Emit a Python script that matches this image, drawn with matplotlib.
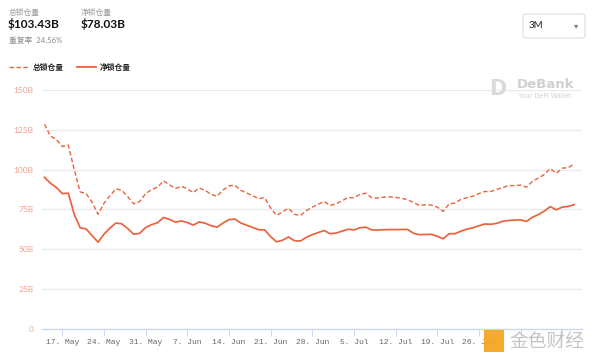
import matplotlib
matplotlib.use("Agg")
import matplotlib.pyplot as plt
import numpy as np
import pandas as pd
from matplotlib.patches import FancyBboxPatch, Rectangle

plt.rcParams['font.family'] = ['Lato', 'Noto Sans CJK SC', 'DejaVu Sans']

# ---- data ----
start_date = "2021-05-14"
total_locked = [128.5, 121.0, 119.0, 114.5, 115.4, 100.0, 86.0, 85.0, 79.5, 72.0,
                78.9, 83.6, 88.0, 87.0, 83.0, 78.5, 80.0, 85.0, 87.5, 89.0,
                93.0, 90.5, 88.2, 89.5, 88.0, 85.6, 88.5, 87.0, 84.5, 83.3,
                87.2, 89.8, 90.2, 87.0, 85.4, 83.5, 81.8, 82.4, 76.0, 71.3,
                73.5, 75.8, 72.0, 71.2, 74.2, 76.5, 78.3, 80.0, 77.5, 78.6,
                80.4, 82.5, 82.4, 84.5, 85.2, 82.4, 82.2, 82.7, 83.0, 82.6,
                82.0, 81.2, 79.4, 77.5, 78.0, 77.8, 76.5, 73.8, 78.5, 79.0,
                81.4, 82.4, 83.3, 85.0, 86.3, 86.3, 87.6, 88.8, 90.0, 90.0,
                90.3, 89.0, 92.7, 94.7, 97.0, 100.7, 97.7, 100.9, 101.3, 103.43]
net_locked = [95.2, 91.5, 88.8, 85.0, 85.2, 72.0, 63.5, 62.8, 58.6, 54.5,
              59.5, 63.3, 66.5, 66.0, 63.0, 59.5, 60.0, 63.7, 65.5, 66.7,
              70.0, 68.8, 67.1, 67.8, 66.8, 65.2, 67.2, 66.4, 64.8, 63.9,
              66.5, 68.6, 69.0, 66.5, 65.1, 63.7, 62.3, 62.2, 58.0, 54.7,
              55.7, 57.7, 55.4, 55.2, 57.5, 59.2, 60.5, 61.8, 59.8, 60.2,
              61.4, 62.6, 62.2, 63.5, 63.9, 62.2, 62.1, 62.3, 62.4, 62.4,
              62.4, 62.5, 60.1, 59.2, 59.3, 59.4, 58.2, 56.6, 59.8, 59.8,
              61.4, 62.7, 63.5, 64.8, 65.9, 65.7, 66.3, 67.6, 68.1, 68.3,
              68.5, 67.5, 70.1, 71.8, 74.0, 76.8, 74.8, 76.5, 76.9, 78.03]
y_ticks = [0, 25, 50, 75, 100, 125, 150]
y_tick_labels = ["0", "25B", "50B", "75B", "100B", "125B", "150B"]
x_tick_dates = ["2021-05-17", "2021-05-24", "2021-05-31", "2021-06-07", "2021-06-14",
                "2021-06-21", "2021-06-28", "2021-07-05", "2021-07-12", "2021-07-19",
                "2021-07-26", "2021-08-02", "2021-08-09"]
# the two August labels are hidden under the watermark in the reference
x_tick_labels = ["17. May", "24. May", "31. May", "7. Jun", "14. Jun", "21. Jun",
                 "28. Jun", "5. Jul", "12. Jul", "19. Jul", "26. Jul", "", ""]
series_names = ["总锁仓量", "净锁仓量"]
header_total = "$103.43B"
header_net = "$78.03B"
repeat_rate = "重复率  24.56%"

dates = pd.date_range(start_date, periods=len(total_locked), freq="D")

LINE = "#e9633e"

fig = plt.figure(figsize=(6.0, 3.62), dpi=100)
ax = fig.add_axes([0.07, 0.0912, 0.90, 0.6602])

for v in y_ticks:
    ax.axhline(v, color="#e9e9ee", lw=0.9, zorder=0)
ax.plot(dates, total_locked, color=LINE, lw=1.0, ls=(0, (3.2, 1.8)), zorder=3)
ax.plot(dates, net_locked, color=LINE, lw=1.25, zorder=3, solid_joinstyle="round")

ax.set_ylim(0, 150)
x0 = pd.Timestamp("2021-05-13 14:00")
x1 = pd.Timestamp("2021-08-12 08:00")
ax.set_xlim(x0, x1)
ax.set_yticks(y_ticks)
ax.set_yticklabels(y_tick_labels)
ax.tick_params(axis="y", length=0, pad=6, labelsize=6, labelcolor="#f2a090")
xt = pd.to_datetime(x_tick_dates)
ax.set_xticks(xt)
ax.set_xticklabels(x_tick_labels, family="Liberation Mono")
ax.tick_params(axis="x", length=5, width=0.7, color="#ccd6eb", labelsize=5.8,
               labelcolor="#666666", pad=2)
for s in ["top", "right", "left"]:
    ax.spines[s].set_visible(False)
ax.spines["bottom"].set_color("#ccd6eb")
ax.spines["bottom"].set_linewidth(0.9)

# header
fig.text(9/600, 1-12/362, series_names[0], fontsize=5.6, color="#9a9a9a", va="center")
fig.text(8/600, 1-24.5/362, header_total, fontsize=8.6, color="#111111",
         fontweight="bold", va="center")
fig.text(9/600, 1-40.5/362, repeat_rate, fontsize=5.6, color="#8a8a8a", va="center")
fig.text(81/600, 1-12/362, series_names[1], fontsize=5.6, color="#9a9a9a", va="center")
fig.text(81/600, 1-24.5/362, header_net, fontsize=8.6, color="#111111",
         fontweight="bold", va="center")

# 3M selector
box = FancyBboxPatch((523/600, 1-38/362), 62/600, 24/362,
                     boxstyle="round,pad=0,rounding_size=0.006",
                     transform=fig.transFigure, fc="white", ec="#dddddd", lw=0.8)
fig.patches.append(box)
fig.text(529/600, 1-26/362, "3M", fontsize=7, color="#222222", va="center")
fig.text(576/600, 1-26/362, "▾", fontsize=6, color="#777777", va="center",
         ha="center", family="DejaVu Sans")

# legend
fig.lines.append(plt.Line2D([9/600, 29/600], [1-67/362, 1-67/362],
                            transform=fig.transFigure, color=LINE, lw=1.0,
                            ls=(0, (3.2, 1.8))))
fig.text(33/600, 1-67/362, series_names[0], fontsize=5.6, color="#222222",
         va="center", fontweight="bold")
fig.lines.append(plt.Line2D([77/600, 96/600], [1-67/362, 1-67/362],
                            transform=fig.transFigure, color=LINE, lw=1.3))
fig.text(100/600, 1-67/362, series_names[1], fontsize=5.6, color="#222222",
         va="center", fontweight="bold")

# DeBank watermark
fig.text(498/600, 1-89/362, "D", fontsize=15, color="#dadada", va="center",
         ha="center", fontweight="bold", family="DejaVu Sans")
fig.text(517/600, 1-85/362, "DeBank", fontsize=9.5, color="#d0d0d0", va="center",
         fontweight="bold", family="DejaVu Sans")
fig.text(518/600, 1-96/362, "Your DeFi Wallet", fontsize=4.8, color="#d0d0d0",
         va="center", family="DejaVu Sans")

# 金色财经 watermark
fig.patches.append(Rectangle((484/600, 1-352/362), 20/600, 22/362,
                             transform=fig.transFigure, fc="#f5a623", ec="none",
                             alpha=0.95, zorder=5))
fig.text(509/600, 1-341/362, "金色财经", fontsize=13.5, color="#c4c4c4", va="center",
         family="Noto Sans CJK SC", zorder=6)

fig.savefig("out.png", dpi=100)
